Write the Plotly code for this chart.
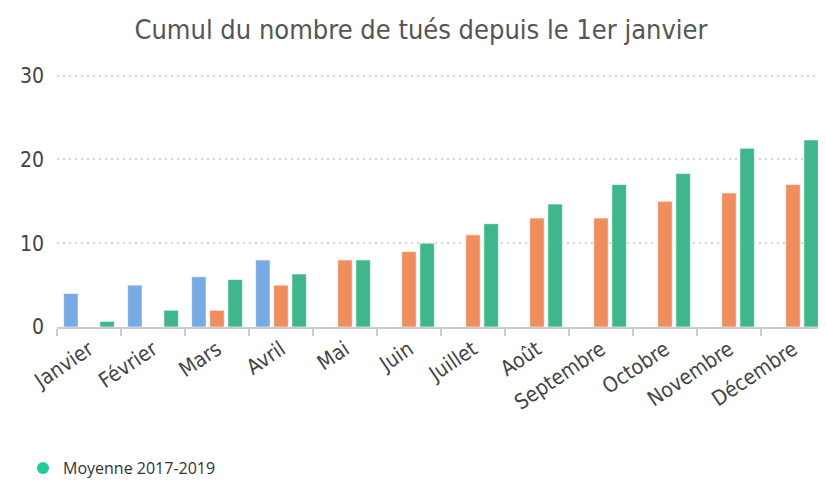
import plotly.graph_objects as go

mois = ["Janvier", "Février", "Mars", "Avril", "Mai", "Juin", "Juillet",
        "Août", "Septembre", "Octobre", "Novembre", "Décembre"]
serie_2021 = [4, 5, 6, 8, None, None, None, None, None, None, None, None]
serie_2020 = [None, None, 2, 5, 8, 9, 11, 13, 13, 15, 16, 17]
moyenne_2017_2019 = [0.67, 2, 5.67, 6.33, 8, 10, 12.33, 14.67, 17, 18.33, 21.33, 22.33]

c_blue = "#78ABE3"
c_orange = "#F08E5F"
c_green = "#40B68C"
edge = dict(color="rgba(255,255,255,0.6)", width=1)

W, H = 818, 472  # page body has an 8px margin

fig = go.Figure()
fig.add_bar(x=mois, y=serie_2021, name="2021", marker_color=c_blue,
            marker_line=edge, showlegend=False)
fig.add_bar(x=mois, y=serie_2020, name="2020", marker_color=c_orange,
            marker_line=edge, showlegend=False)
fig.add_bar(x=mois, y=moyenne_2017_2019, name="Moyenne 2017-2019", marker_color=c_green,
            marker_line=edge, showlegend=False)
fig.add_scatter(x=[None], y=[None], mode="markers", name="Moyenne 2017-2019",
                marker=dict(color="#1FCB9A", size=14, symbol="circle"), showlegend=True)

fig.update_layout(
    width=W, height=H,
    paper_bgcolor="white", plot_bgcolor="white",
    barmode="group", bargap=0.15, bargroupgap=0.2,
    margin=dict(l=49, r=1, t=66, b=153, autoexpand=False),
    title=dict(text="Cumul du nombre de tués depuis le 1er janvier",
               x=413 / W, xanchor="center", xref="container",
               y=1 - 22 / H, yanchor="middle", yref="container",
               font=dict(family="DejaVu Sans Condensed, DejaVu Sans", size=27, color="#555555")),
    font=dict(family="DejaVu Sans", color="#444444"),
    showlegend=True,
    legend=dict(orientation="h", x=15 / W, xanchor="left", xref="container",
                y=1 - 460 / H, yanchor="middle", yref="container",
                font=dict(family="Open Sans", size=16, color="#333333"),
                itemsizing="constant", itemwidth=30),
)
fig.update_xaxes(
    type="category", showgrid=False, showline=True, linecolor="#cccccc", linewidth=2,
    ticks="outside", tickson="boundaries", ticklen=7, tickcolor="#cccccc", tickwidth=1.5,
    tickangle=-34, automargin=False,
    tickfont=dict(family="DejaVu Sans Condensed, DejaVu Sans", size=21, color="#444444"),
)
fig.update_yaxes(
    range=[0, 30.2], tickvals=[0, 10, 20, 30], showgrid=True, gridcolor="#d4d4d4",
    griddash="2px,4px", gridwidth=1.5, zeroline=False, showline=False, automargin=False,
    tickfont=dict(family="DejaVu Sans Condensed, DejaVu Sans", size=21, color="#444444"),
    ticklabelstandoff=12,
)

fig.write_html("out.html")
